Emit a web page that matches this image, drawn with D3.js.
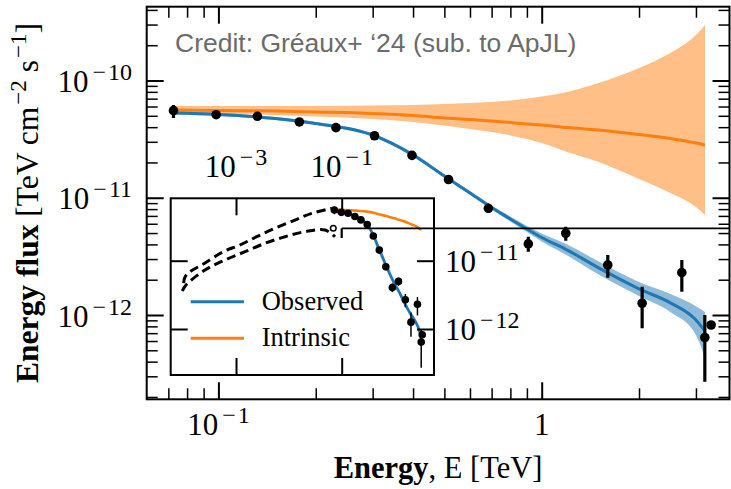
<!DOCTYPE html>
<html>
<head>
<meta charset="utf-8">
<script src="https://cdn.jsdelivr.net/npm/d3@7"></script>
<style>
  html, body { margin: 0; padding: 0; background: #ffffff; }
  svg { display: block; }
</style>
</head>
<body>
<svg id="chart" width="731" height="489"></svg>
<script>
// ---- Measured spectral points (E in TeV, E^2 dN/dE in TeV cm^-2 s^-1) ----
const pointEnergy   = [0.0726, 0.0984, 0.132, 0.178, 0.231, 0.304, 0.397, 0.515, 0.684, 0.909, 1.187, 1.601, 2.045, 2.713, 3.196, 3.342];
const pointFlux     = [5.53e-11, 5.11e-11, 4.95e-11, 4.43e-11, 3.96e-11, 3.38e-11, 2.30e-11, 1.43e-11, 8.13e-12, 4.04e-12, 4.98e-12, 2.67e-12, 1.26e-12, 2.30e-12, 6.43e-13, 8.22e-13];
const pointFluxLow  = [4.79e-11, 4.95e-11, 4.80e-11, 4.30e-11, 3.84e-11, 3.28e-11, 2.22e-11, 1.38e-11, 7.46e-12, 3.47e-12, 4.30e-12, 2.08e-12, 7.70e-13, 1.58e-12, 2.70e-13, 8.22e-13];
const pointFluxHigh = [6.18e-11, 5.27e-11, 5.10e-11, 4.56e-11, 4.08e-11, 3.48e-11, 2.38e-11, 1.48e-11, 8.68e-12, 4.65e-12, 5.66e-12, 3.25e-12, 1.74e-12, 2.94e-12, 1.00e-12, 8.22e-13];

// ---- Model curves sampled on a common energy grid ----
const modelEnergy   = [0.072, 0.1, 0.15, 0.2, 0.3, 0.4, 0.5, 0.6, 0.7, 0.8, 0.9, 1.0, 1.2, 1.5, 2.0, 2.5, 3.0, 3.2];
const intrinsicFlux = [5.60e-11, 5.55e-11, 5.49e-11, 5.39e-11, 5.23e-11, 5.03e-11, 4.79e-11, 4.65e-11, 4.51e-11, 4.38e-11, 4.26e-11, 4.17e-11, 3.97e-11, 3.78e-11, 3.46e-11, 3.20e-11, 2.93e-11, 2.82e-11];
const intrinsicLow  = [5.28e-11, 5.18e-11, 5.08e-11, 4.93e-11, 4.70e-11, 4.43e-11, 4.13e-11, 3.86e-11, 3.64e-11, 3.40e-11, 3.17e-11, 2.93e-11, 2.46e-11, 2.02e-11, 1.445e-11, 1.098e-11, 8.34e-12, 7.13e-12];
const intrinsicHigh = [6.06e-11, 6.06e-11, 6.06e-11, 6.06e-11, 6.12e-11, 6.18e-11, 6.30e-11, 6.43e-11, 6.56e-11, 6.75e-11, 7.02e-11, 7.30e-11, 7.98e-11, 9.52e-11, 1.278e-10, 1.716e-10, 2.443e-10, 2.973e-10];
const observedFlux  = [5.28e-11, 5.13e-11, 4.74e-11, 4.30e-11, 3.43e-11, 2.32e-11, 1.53e-11, 1.10e-11, 8.26e-12, 6.59e-12, 5.41e-12, 4.58e-12, 3.58e-12, 2.52e-12, 1.67e-12, 1.27e-12, 9.07e-13, 7.30e-13];
const observedLow   = [5.13e-11, 4.98e-11, 4.60e-11, 4.17e-11, 3.33e-11, 2.25e-11, 1.49e-11, 1.06e-11, 7.94e-12, 6.27e-12, 5.10e-12, 4.23e-12, 3.22e-12, 2.21e-12, 1.45e-12, 1.06e-12, 6.75e-13, 4.30e-13];
const observedHigh  = [5.44e-11, 5.28e-11, 4.88e-11, 4.43e-11, 3.53e-11, 2.38e-11, 1.58e-11, 1.14e-11, 8.59e-12, 6.92e-12, 5.74e-12, 4.96e-12, 3.99e-12, 2.86e-12, 1.91e-12, 1.51e-12, 1.19e-12, 1.06e-12];

// ---- Cascade curves shown in the wide-band inset ----
const cascadeAEnergy = [1.02e-4, 1.084e-4, 1.348e-4, 2.244e-4, 5.75e-4, 1.19e-3, 2.464e-3, 5.47e-3, 0.01307, 0.02706, 0.0647];
const cascadeAFlux   = [4.70e-12, 5.77e-12, 6.90e-12, 8.65e-12, 1.354e-11, 1.698e-11, 2.245e-11, 2.98e-11, 3.94e-11, 4.94e-11, 5.85e-11];
const cascadeBEnergy = [9.60e-5, 1.133e-4, 2.59e-4, 6.19e-4, 1.48e-3, 3.54e-3, 8.46e-3, 0.02021, 0.0483, 0.0747];
const cascadeBFlux   = [3.60e-12, 4.41e-12, 7.31e-12, 1.024e-11, 1.354e-11, 1.80e-11, 2.245e-11, 2.66e-11, 2.81e-11, 2.245e-11];

// Reference marker in the inset and its pointer line
const markerEnergy = 0.0693, markerFlux = 2.98e-11;
const pointerEnergy = 0.1, pointerFluxLow = 2.15e-11;

// Tick definitions
const mainXMajor = [0.1, 1];
const mainXMinor = [0.07, 0.08, 0.09, 0.2, 0.3, 0.4, 0.5, 0.6, 0.7, 0.8, 0.9, 2, 3];
const mainYMajor = [1e-12, 1e-11, 1e-10];
const mainYMinor = [2e-13, 3e-13, 4e-13, 5e-13, 6e-13, 7e-13, 8e-13, 9e-13,
                    2e-12, 3e-12, 4e-12, 5e-12, 6e-12, 7e-12, 8e-12, 9e-12,
                    2e-11, 3e-11, 4e-11, 5e-11, 6e-11, 7e-11, 8e-11, 9e-11,
                    2e-10, 3e-10, 4e-10];
const mainXLabels = [{v: 0.1, base: "10", exp: "1"}, {v: 1, base: "1", exp: null}];
const mainYLabels = [{v: 1e-10, exp: "10"}, {v: 1e-11, exp: "11"}, {v: 1e-12, exp: "12"}];
const insetXMajor = [1e-3, 1e-1];
const insetYMajor = [1e-12, 1e-11];
const insetXLabels = [{v: 1e-3, exp: "3"}, {v: 1e-1, exp: "1"}];
const insetYLabels = [{v: 1e-11, exp: "11"}, {v: 1e-12, exp: "12"}];

const legendItems = [{name: "Observed", color: "#1f77b4"}, {name: "Intrinsic", color: "#ff7f0e"}];
const creditText = "Credit: Gr\u00e9aux+ \u201824 (sub. to ApJL)";

const SERIF = "'Liberation Serif', 'Times New Roman', serif";
const SANS = "'Liberation Sans', Arial, sans-serif";
const BLUE = "#1f77b4", ORANGE = "#ff7f0e";

const svg = d3.select("#chart");

// ---- Main axes ----
const main = {left: 146.7, right: 729.5, top: 6.7, bottom: 399.3};
const x = d3.scaleLog().domain([0.06, 3.81]).range([main.left, main.right]);
const y = d3.scaleLog().domain([1.91e-13, 4.26e-10]).range([main.bottom, main.top]);

const defs = svg.append("defs");
defs.append("clipPath").attr("id", "mainClip").append("rect")
  .attr("x", main.left).attr("y", main.top)
  .attr("width", main.right - main.left).attr("height", main.bottom - main.top);

const model = modelEnergy.map((e, i) => ({
  e, intr: intrinsicFlux[i], intrLo: intrinsicLow[i], intrHi: intrinsicHigh[i],
  obs: observedFlux[i], obsLo: observedLow[i], obsHi: observedHigh[i]
}));
const points = pointEnergy.map((e, i) => ({e, f: pointFlux[i], lo: pointFluxLow[i], hi: pointFluxHigh[i]}));

const plot = svg.append("g").attr("clip-path", "url(#mainClip)");

const bandArea = (sx, sy, lo, hi) => d3.area()
  .x(d => sx(d.e)).y0(d => sy(d[lo])).y1(d => sy(d[hi])).curve(d3.curveMonotoneX);
const modelLine = (sx, sy, key) => d3.line()
  .x(d => sx(d.e)).y(d => sy(d[key])).curve(d3.curveMonotoneX);

plot.append("path").datum(model).attr("d", bandArea(x, y, "intrLo", "intrHi"))
  .attr("fill", ORANGE).attr("fill-opacity", 0.5);
plot.append("path").datum(model).attr("d", bandArea(x, y, "obsLo", "obsHi"))
  .attr("fill", BLUE).attr("fill-opacity", 0.5);
plot.append("path").datum(model).attr("d", modelLine(x, y, "intr"))
  .attr("fill", "none").attr("stroke", ORANGE).attr("stroke-width", 3);
plot.append("path").datum(model).attr("d", modelLine(x, y, "obs"))
  .attr("fill", "none").attr("stroke", BLUE).attr("stroke-width", 3);

function drawPoints(g, sx, sy, lw, r) {
  g.selectAll(null).data(points).join("line")
    .attr("x1", d => sx(d.e)).attr("x2", d => sx(d.e))
    .attr("y1", d => sy(d.lo)).attr("y2", d => sy(d.hi))
    .attr("stroke", "#000").attr("stroke-width", lw);
  g.selectAll(null).data(points).join("circle")
    .attr("cx", d => sx(d.e)).attr("cy", d => sy(d.f)).attr("r", r).attr("fill", "#000");
}
drawPoints(plot, x, y, 3.2, 4.8);

// Ticks pointing inward on all four sides
function ticks(g, axisFn, scale, values, size, width, translate) {
  const a = g.append("g").attr("transform", translate)
    .call(axisFn(scale).tickValues(values).tickSize(-size).tickFormat(""));
  a.select(".domain").remove();
  a.selectAll(".tick line").attr("stroke", "#000").attr("stroke-width", width);
  a.selectAll(".tick text").remove();
}
const axes = svg.append("g");
ticks(axes, d3.axisBottom, x, mainXMajor, 17, 2, `translate(0,${main.bottom})`);
ticks(axes, d3.axisBottom, x, mainXMinor, 11, 1.5, `translate(0,${main.bottom})`);
ticks(axes, d3.axisTop, x, mainXMajor, 17, 2, `translate(0,${main.top})`);
ticks(axes, d3.axisTop, x, mainXMinor, 11, 1.5, `translate(0,${main.top})`);
ticks(axes, d3.axisLeft, y, mainYMajor, 17, 2, `translate(${main.left},0)`);
ticks(axes, d3.axisLeft, y, mainYMinor, 11, 1.5, `translate(${main.left},0)`);
ticks(axes, d3.axisRight, y, mainYMajor, 17, 2, `translate(${main.right},0)`);
ticks(axes, d3.axisRight, y, mainYMinor, 11, 1.5, `translate(${main.right},0)`);

axes.append("rect").attr("x", main.left).attr("y", main.top)
  .attr("width", main.right - main.left).attr("height", main.bottom - main.top)
  .attr("fill", "none").attr("stroke", "#000").attr("stroke-width", 2);

// "10^{-n}" style labels
function powerLabel(g, px, py, base, exp, anchor) {
  const t = g.append("text").attr("x", px).attr("y", py).attr("text-anchor", anchor)
    .attr("font-family", SERIF).attr("font-size", 31).attr("fill", "#000");
  t.append("tspan").text(base);
  if (exp !== null) {
    t.append("tspan").attr("dx", 4).attr("dy", -12).attr("font-size", 24).text("\u2212");
    t.append("tspan").attr("dx", 2).attr("font-size", 24).text(exp);
  }
  return t;
}
const labels = svg.append("g");
mainXLabels.forEach(d => powerLabel(labels, x(d.v), 435, d.base, d.exp, "middle"));
mainYLabels.forEach(d => powerLabel(labels, 132, y(d.v) + 11.5, "10", d.exp, "end"));

// Axis titles
const xTitle = labels.append("text").attr("x", (main.left + main.right) / 2).attr("y", 478)
  .attr("text-anchor", "middle").attr("font-family", SERIF).attr("font-size", 30.5);
xTitle.append("tspan").attr("font-weight", "bold").text("Energy");
xTitle.append("tspan").text(", E [TeV]");

const yTitle = labels.append("text")
  .attr("transform", `translate(38,${(main.top + main.bottom) / 2}) rotate(-90)`)
  .attr("text-anchor", "middle").attr("font-family", SERIF).attr("font-size", 31.5);
yTitle.append("tspan").attr("font-weight", "bold").text("Energy flux");
yTitle.append("tspan").text(" [TeV cm");
yTitle.append("tspan").attr("dx", 2).attr("dy", -12).attr("font-size", 23).text("\u22122");
yTitle.append("tspan").attr("dy", 12).text(" s");
yTitle.append("tspan").attr("dx", 2).attr("dy", -12).attr("font-size", 23).text("\u22121");
yTitle.append("tspan").attr("dy", 12).text("]");

// Credit line
labels.append("text").attr("x", 175).attr("y", 51.7)
  .attr("font-family", SANS).attr("font-size", 26.5).attr("fill", "#6b6b6b").text(creditText);

// ---- Inset: wide energy range ----
const ins = {left: 170.7, right: 434, top: 198.3, bottom: 375};
const xi = d3.scaleLog().domain([5.81e-5, 5.58]).range([ins.left, ins.right]);
const yi = d3.scaleLog().domain([2.12e-13, 8.2e-11]).range([ins.bottom, ins.top]);

defs.append("clipPath").attr("id", "insetClip").append("rect")
  .attr("x", ins.left).attr("y", ins.top)
  .attr("width", ins.right - ins.left).attr("height", ins.bottom - ins.top);

const inset = svg.append("g");
inset.append("rect").attr("x", ins.left).attr("y", ins.top)
  .attr("width", ins.right - ins.left).attr("height", ins.bottom - ins.top).attr("fill", "#fff");

const insetPlot = inset.append("g").attr("clip-path", "url(#insetClip)");
const cascadeLine = d3.line().x(d => xi(d.e)).y(d => yi(d.f)).curve(d3.curveCatmullRom);
[[cascadeAEnergy, cascadeAFlux], [cascadeBEnergy, cascadeBFlux]].forEach(([es, fs]) => {
  insetPlot.append("path").datum(es.map((e, i) => ({e, f: fs[i]})))
    .attr("d", cascadeLine).attr("fill", "none").attr("stroke", "#000")
    .attr("stroke-width", 3).attr("stroke-dasharray", "9,5");
});
insetPlot.append("path").datum(model).attr("d", modelLine(xi, yi, "intr"))
  .attr("fill", "none").attr("stroke", ORANGE).attr("stroke-width", 2.6);
insetPlot.append("path").datum(model).attr("d", modelLine(xi, yi, "obs"))
  .attr("fill", "none").attr("stroke", BLUE).attr("stroke-width", 2.8);
drawPoints(insetPlot, xi, yi, 1.5, 3.8);

insetPlot.append("circle").attr("cx", xi(markerEnergy)).attr("cy", yi(markerFlux)).attr("r", 2.8)
  .attr("fill", "#fff").attr("stroke", "#000").attr("stroke-width", 1.5);

// Legend
const legend = inset.append("g");
legendItems.forEach((d, i) => {
  const ly = 301.7 + i * 36.6;
  legend.append("line").attr("x1", 190.7).attr("x2", 244).attr("y1", ly).attr("y2", ly)
    .attr("stroke", d.color).attr("stroke-width", 3);
  legend.append("text").attr("x", 261.7).attr("y", ly + 8).attr("font-family", SERIF)
    .attr("font-size", 26.5).text(d.name);
});

// Inset ticks and frame
ticks(inset, d3.axisBottom, xi, insetXMajor, 17, 2, `translate(0,${ins.bottom})`);
ticks(inset, d3.axisTop, xi, insetXMajor, 17, 2, `translate(0,${ins.top})`);
ticks(inset, d3.axisLeft, yi, insetYMajor, 17, 2, `translate(${ins.left},0)`);
ticks(inset, d3.axisRight, yi, insetYMajor, 17, 2, `translate(${ins.right},0)`);
inset.append("rect").attr("x", ins.left).attr("y", ins.top)
  .attr("width", ins.right - ins.left).attr("height", ins.bottom - ins.top)
  .attr("fill", "none").attr("stroke", "#000").attr("stroke-width", 2);

insetXLabels.forEach(d => powerLabel(labels, xi(d.v), 177, "10", d.exp, "middle"));
insetYLabels.forEach(d => powerLabel(labels, 445, yi(d.v) + 11, "10", d.exp, "start"));

// Pointer from the inset marker out to the right edge of the main axes
inset.append("line").attr("x1", xi(pointerEnergy)).attr("x2", main.right)
  .attr("y1", yi(markerFlux)).attr("y2", yi(markerFlux))
  .attr("stroke", "#000").attr("stroke-width", 1.8);
inset.append("line").attr("x1", xi(pointerEnergy)).attr("x2", xi(pointerEnergy))
  .attr("y1", yi(markerFlux)).attr("y2", yi(pointerFluxLow))
  .attr("stroke", "#000").attr("stroke-width", 2.2);
</script>
</body>
</html>
